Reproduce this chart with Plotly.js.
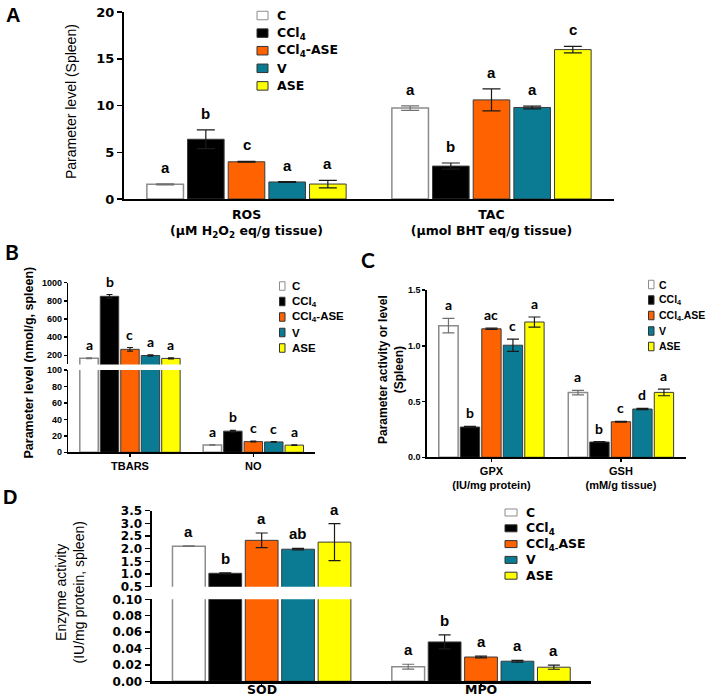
<!DOCTYPE html>
<html><head><meta charset="utf-8">
<script src="https://cdn.plot.ly/plotly-3.0.1.min.js"></script>
<style>html,body{margin:0;padding:0;background:#fff}</style>
</head><body><div id="chart" style="width:708px;height:696px"></div>
<script>
// ---------------- data ----------------
const seriesNames    = ['C', 'CCl<sub>4</sub>', 'CCl<sub>4</sub>-ASE', 'V', 'ASE'];
const seriesNamesAlt = ['C', 'CCl<sub>4</sub>', 'CCl<sub>4-</sub>ASE', 'V', 'ASE'];
const seriesColors   = ['#FFFFFF', '#000000', '#FF6200', '#0A7B92', '#FFFF00'];

// Panel A
const catsA     = ['ROS', 'TAC'];
const tickTextA = ['ROS<br>(μM H<sub>2</sub>O<sub>2</sub> eq/g tissue)', 'TAC<br>(μmol BHT eq/g tissue)'];
const valuesA   = [[1.57, 9.72], [6.39, 3.52], [3.98, 10.6], [1.82, 9.79], [1.6, 15.98]];
const errorsA   = [[0.06, 0.25], [1.0, 0.33], [0.05, 1.17], [0.04, 0.15], [0.4, 0.35]];
const lettersA  = [['a', 'a'], ['b', 'b'], ['c', 'a'], ['a', 'a'], ['a', 'c']];

// Panel B
const catsB     = ['TBARS', 'NO'];
const tickTextB = ['TBARS', 'NO'];
const valuesB   = [[168, 9.0], [850, 25.7], [266, 13.0], [198, 12.6], [166, 8.7]];
const errorsB   = [[4, 0.4], [20, 1.0], [20, 0.5], [8, 0.4], [5, 0.4]];
const lettersB  = [['a', 'a'], ['b', 'b'], ['c', 'c'], ['a', 'c'], ['a', 'a']];

// Panel C
const catsC     = ['GPX', 'GSH'];
const tickTextC = ['GPX<br>(IU/mg protein)', 'GSH<br>(mM/g tissue)'];
const valuesC   = [[1.18, 0.58], [0.271, 0.137], [1.152, 0.319], [1.005, 0.433], [1.213, 0.582]];
const errorsC   = [[0.065, 0.02], [0.006, 0.003], [0.006, 0.003], [0.055, 0.005], [0.045, 0.03]];
const lettersC  = [['a', 'a'], ['b', 'b'], ['ac', 'c'], ['c', 'd'], ['a', 'a']];

// Panel D
const catsD     = ['SOD', 'MPO'];
const tickTextD = ['SOD', 'MPO'];
const valuesD   = [[2.1, 0.0178], [1.03, 0.048], [2.33, 0.0296], [1.98, 0.0245], [2.26, 0.0172]];
const errorsD   = [[0.01, 0.003], [0.02, 0.0085], [0.29, 0.001], [0.03, 0.001], [0.73, 0.0025]];
const lettersD  = [['a', 'a'], ['b', 'b'], ['a', 'a'], ['ab', 'a'], ['a', 'a']];

// ---------------- helpers ----------------
const W = 708, H = 696;
const px = x => x / W;
const py = y => 1 - y / H;
const BARGAP = 0.17, NS = seriesNames.length, SLOT = (1 - BARGAP) / NS;

const ARIAL  = 'Liberation Sans, Arial, sans-serif';
const WIDE   = 'DejaVu Sans, Verdana, sans-serif';
const CALIB  = 'Lato, Liberation Sans, sans-serif';

const traces = [];
const annotations = [];
const shapes = [];

function addBars(cats, vals, errs, xa, ya, capW) {
  for (let i = 0; i < NS; i++) {
    traces.push({
      type: 'bar', x: cats, y: vals[i], xaxis: xa, yaxis: ya, name: seriesNames[i],
      marker: {color: seriesColors[i], line: {color: i === 0 ? '#8c8c8c' : '#3a3a3a', width: i === 0 ? 1.5 : 1}},
      error_y: {type: 'data', array: errs[i], visible: true, color: i === 0 ? '#707070' : '#1a1a1a', thickness: 1.2, width: capW},
      showlegend: false, hoverinfo: 'skip'
    });
  }
}

function addLetters(vals, errs, letters, pick, font, yshift) {
  for (let i = 0; i < NS; i++) {
    for (let j = 0; j < vals[i].length; j++) {
      const top = vals[i][j] + errs[i][j];
      const r = pick(top);
      annotations.push({
        x: j + (i - (NS - 1) / 2) * SLOT, y: top, xref: r[0], yref: r[1],
        text: letters[i][j], showarrow: false, xanchor: 'center', yanchor: 'bottom',
        yshift: yshift, font: font
      });
    }
  }
}

function addLegend(names, boxX, boxW, boxH, textX, y0, step, font) {
  for (let i = 0; i < NS; i++) {
    const yc = y0 + i * step;
    shapes.push({
      type: 'rect', xref: 'paper', yref: 'paper',
      x0: px(boxX), x1: px(boxX + boxW), y0: py(yc + boxH / 2), y1: py(yc - boxH / 2),
      fillcolor: seriesColors[i], line: {color: i === 0 ? '#8c8c8c' : '#333', width: 1}
    });
    annotations.push({
      xref: 'paper', yref: 'paper', x: px(textX), y: py(yc), xanchor: 'left', yanchor: 'middle',
      text: names[i], showarrow: false, font: font
    });
  }
}

function label(text, x, y, font, angle) {
  annotations.push({xref: 'paper', yref: 'paper', x: px(x), y: py(y), xanchor: 'center', yanchor: 'middle',
    text: text, showarrow: false, font: font, textangle: angle || 0});
}

// ---------------- traces ----------------
addBars(catsA, valuesA, errorsA, 'x', 'y', 9);
addBars(catsB, valuesB, errorsB, 'x2', 'y2', 3);
addBars(catsB, valuesB, errorsB, 'x3', 'y3', 3);
addBars(catsC, valuesC, errorsC, 'x4', 'y4', 6);
addBars(catsD, valuesD, errorsD, 'x5', 'y5', 6);
addBars(catsD, valuesD, errorsD, 'x6', 'y6', 6);

// letters
addLetters(valuesA, errorsA, lettersA, t => ['x', 'y'], {family: ARIAL, size: 15, weight: 'bold', color: '#000'}, 6);
addLetters(valuesB, errorsB, lettersB, t => t > 100 ? ['x3', 'y3'] : ['x2', 'y2'], {family: CALIB, size: 14, weight: 'bold', color: '#000'}, 3);
addLetters(valuesC, errorsC, lettersC, t => ['x4', 'y4'], {family: CALIB, size: 14, weight: 'bold', color: '#000'}, 3);
addLetters(valuesD, errorsD, lettersD, t => t > 0.1 ? ['x6', 'y6'] : ['x5', 'y5'], {family: ARIAL, size: 15, weight: 'bold', color: '#000'}, 4);

// legends
addLegend(seriesNames, 257, 11, 8.5, 275, 15.5, 17.6, {family: WIDE, size: 12.5, weight: 'bold', color: '#000'});
addLegend(seriesNames, 279.5, 5.5, 8.5, 289.5, 286, 15.5, {family: ARIAL, size: 11.5, weight: 'bold', color: '#000'});
addLegend(seriesNamesAlt, 648.5, 5.5, 8.5, 657, 284.5, 15.5, {family: ARIAL, size: 10.5, weight: 'bold', color: '#000'});
addLegend(seriesNamesAlt, 505, 12, 7, 524, 512.5, 15.8, {family: WIDE, size: 12.5, weight: 'bold', color: '#000'});

// panel letters and axis titles
label('A', 13, 15, {family: ARIAL, size: 20, weight: 'bold', color: '#000'});
label('B', 12, 252, {family: CALIB, size: 21, weight: 'bold', color: '#000'});
label('C', 368, 259, {family: CALIB, size: 21, weight: 'bold', color: '#000'});
label('D', 10, 497, {family: ARIAL, size: 20, weight: 'bold', color: '#000'});
label('Parameter level (Spleen)', 71, 102, {family: ARIAL, size: 14, color: '#000'}, -90);
label('Parameter level (nmol/g, spleen)', 28, 362.5, {family: ARIAL, size: 12.5, weight: 'bold', color: '#000'}, -90);
label('Parameter activity or level<br>(Spleen)', 391, 370, {family: ARIAL, size: 12, weight: 'bold', color: '#000'}, -90);
label('Enzyme activity<br>(IU/mg protein, spleen)', 69, 592.5, {family: ARIAL, size: 14, color: '#000'}, -90);

// panel D category labels (placed as axis-referenced text so they fit the page)
const fDx = {family: WIDE, size: 12.5, weight: 'bold', color: '#000'};
for (let j = 0; j < catsD.length; j++) {
  annotations.push({xref: 'x5', yref: 'paper', x: catsD[j], y: py(689.5), xanchor: 'center', yanchor: 'middle',
    text: tickTextD[j], showarrow: false, font: fDx});
}

// ---------------- axes ----------------
function xAxis(cats, ticktext, x0, x1, yAnchor, font, opts) {
  return Object.assign({
    type: 'category', categoryorder: 'array', categoryarray: cats,
    domain: [px(x0), px(x1)], range: [-0.5, 1.5], anchor: yAnchor,
    tickmode: 'array', tickvals: cats, ticktext: ticktext,
    showline: true, linecolor: '#000', linewidth: 2, showgrid: false, zeroline: false,
    ticks: 'outside', ticklen: 3, tickwidth: 1.5, tickcolor: '#000',
    tickfont: font, fixedrange: true
  }, opts || {});
}
function yAxis(y0, y1, range, dtick, fmt, xAnchor, font, opts) {
  return Object.assign({
    domain: [py(y0), py(y1)], range: range, dtick: dtick, tick0: 0, tickformat: fmt, anchor: xAnchor,
    showline: true, linecolor: '#000', linewidth: 2, showgrid: false, zeroline: false,
    ticks: 'outside', ticklen: 5, tickwidth: 1.5, tickcolor: '#000', tickfont: font, fixedrange: true
  }, opts || {});
}

const fA  = {family: WIDE, size: 13, weight: 'bold', color: '#000'};
const fAx = {family: WIDE, size: 12.5, weight: 'bold', color: '#000'};
const fB  = {family: ARIAL, size: 9, weight: 'bold', color: '#000'};
const fBx = {family: ARIAL, size: 11, weight: 'bold', color: '#000'};
const fD  = {family: WIDE, size: 12, weight: 'bold', color: '#000'};

const layout = {
  width: W, height: H, margin: {l: 0, r: 0, t: 0, b: 0},
  paper_bgcolor: '#fff', plot_bgcolor: 'rgba(0,0,0,0)',
  barmode: 'group', bargap: BARGAP, bargroupgap: 0.1, showlegend: false,
  xaxis:  xAxis(catsA, tickTextA, 124, 614, 'y', fAx, {ticks: '', ticklabelstandoff: 3}),
  yaxis:  yAxis(199, 12, [0, 20], 5, '', 'x', fA, {ticklen: 5}),
  xaxis2: xAxis(catsB, tickTextB, 68.3, 315, 'y2', fBx, {linewidth: 1.5}),
  yaxis2: yAxis(452.3, 370, [0, 100], 20, '', 'x2', fB, {ticklen: 3, linewidth: 1.5}),
  xaxis3: xAxis(catsB, tickTextB, 68.3, 315, 'y3', fBx, {visible: false}),
  yaxis3: yAxis(364.4, 282.7, [100, 1000], 200, '', 'x3', fB, {ticklen: 3, linewidth: 1.5}),
  xaxis4: xAxis(catsC, tickTextC, 426.7, 685.7, 'y4', fBx, {linewidth: 1.5}),
  yaxis4: yAxis(457.3, 290, [0, 1.5], 0.5, '.1f', 'x4', fB, {ticklen: 3, linewidth: 1.5}),
  xaxis5: xAxis(catsD, tickTextD, 152, 590.7, 'y5', fDx, {linewidth: 2.5, showticklabels: false}),
  yaxis5: yAxis(681.3, 599.3, [0, 0.1], 0.02, '.2f', 'x5', fD, {linewidth: 2.5}),
  xaxis6: xAxis(catsD, tickTextD, 152, 590.7, 'y6', fDx, {visible: false}),
  yaxis6: yAxis(586.7, 510.7, [0.5, 3.5], 0.5, '.1f', 'x6', fD, {linewidth: 2.5}),
  annotations: annotations, shapes: shapes
};

Plotly.newPlot('chart', traces, layout, {displayModeBar: false, staticPlot: true});
</script></body></html>
